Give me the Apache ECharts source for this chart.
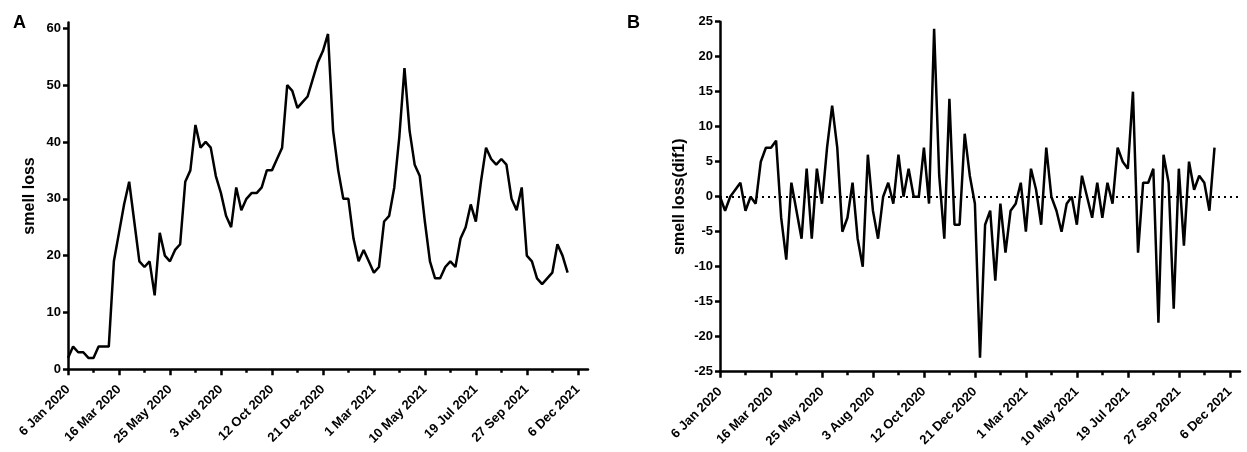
<!DOCTYPE html>
<html>
<head>
<meta charset="utf-8">
<title>smell loss</title>
<script src="https://cdn.jsdelivr.net/npm/echarts@6/dist/echarts.min.js"></script>
<style>
	html, body { margin: 0; padding: 0; background: #fff; }
	#main { width: 1247px; height: 452px; }
</style>
</head>
<body>
<div id="main"></div>
<script>
// tick labels on the week axis (one every 10 weeks from 6 Jan 2020)
var weekTicks = [0, 10, 20, 30, 40, 50, 60, 70, 80, 90, 100];
var weekMinorTicks = [5, 15, 25, 35, 45, 55, 65, 75, 85, 95];
var dateLabels = ["6 Jan 2020", "16 Mar 2020", "25 May 2020", "3 Aug 2020", "12 Oct 2020", "21 Dec 2020",
	"1 Mar 2021", "10 May 2021", "19 Jul 2021", "27 Sep 2021", "6 Dec 2021"];

// panel A: weekly smell loss
var smellLoss = [2, 4, 3, 3, 2, 2, 4, 4, 4,
	19, 24, 29, 33, 26, 19, 18, 19, 13, 24, 20,
	19, 21, 22, 33, 35, 43, 39, 40, 39, 34,
	31, 27, 25, 32, 28, 30, 31, 31, 32, 35,
	35, 37, 39, 50, 49, 46, 47, 48, 51, 54,
	56, 59, 42, 35, 30, 30, 23, 19, 21, 19,
	17, 18, 26, 27, 32, 41, 53, 42, 36, 34,
	26, 19, 16, 16, 18, 19, 18, 23, 25, 29,
	26, 33, 39, 37, 36, 37, 36, 30, 28, 32,
	20, 19, 16, 15, 16, 17, 22, 20, 17];
var lossTicks = [0, 10, 20, 30, 40, 50, 60];

// panel B: smell loss (dif1)
var smellLossDif = [0, -2, 0, 1, 2, -2, 0, -1, 5, 7,
	7, 8, -3, -9, 2, -2, -6, 4, -6, 4,
	-1, 7, 13, 7, -5, -3, 2, -6, -10, 6,
	-2, -6, 0, 2, -1, 6, 0, 4, 0, 0,
	7, -1, 24, 3, -6, 14, -4, -4, 9, 3,
	-1, -23, -4, -2, -12, -1, -8, -2, -1, 2,
	-5, 4, 1, -4, 7, 0, -2, -5, -1, 0,
	-4, 3, 0, -3, 2, -3, 2, -1, 7, 5,
	4, 15, -8, 2, 2, 4, -18, 6, 2, -16,
	4, -7, 5, 1, 3, 2, -2, 7];

var FONT = "Liberation Sans";

function toPoints(arr) {
	return arr.map(function (v, i) { return [i, v]; });
}

//week axis with the date labels and the long ticks
function weekAxis(gridIndex) {
	return {
		type: "value",
		gridIndex: gridIndex,
		position: "bottom",
		min: 0,
		max: 102,
		axisLine: { onZero: false, lineStyle: { color: "#000", width: 2.5 } },
		axisTick: { customValues: weekTicks, length: 6, lineStyle: { color: "#000", width: 2.5 } },
		axisLabel: {
			customValues: weekTicks,
			rotate: 45,
			margin: 18,
			color: "#000",
			fontFamily: FONT,
			fontWeight: "bold",
			fontSize: 13,
			formatter: function (v) { return dateLabels[weekTicks.indexOf(v)]; }
		},
		splitLine: { show: false }
	};
}

//same axis again, only for the short ticks in between
function weekMinorAxis(gridIndex) {
	return {
		type: "value",
		gridIndex: gridIndex,
		position: "bottom",
		min: 0,
		max: 102,
		axisLine: { show: false, onZero: false },
		axisTick: { customValues: weekMinorTicks, length: 3.5, lineStyle: { color: "#000", width: 2.5 } },
		axisLabel: { show: false },
		splitLine: { show: false }
	};
}

function valueAxis(gridIndex, opt) {
	var ax = {
		type: "value",
		gridIndex: gridIndex,
		name: opt.name,
		nameLocation: "middle",
		nameGap: opt.nameGap,
		nameTextStyle: { color: "#000", fontFamily: FONT, fontWeight: "bold", fontSize: 16 },
		min: opt.min,
		max: opt.max,
		axisLine: { lineStyle: { color: "#000", width: 2.5 } },
		axisTick: { length: 5, lineStyle: { color: "#000", width: 2.5 } },
		axisLabel: { margin: 7, color: "#000", fontFamily: FONT, fontWeight: "bold", fontSize: 13 },
		splitLine: { show: false }
	};
	if (opt.ticks) {
		ax.axisTick.customValues = opt.ticks;
		ax.axisLabel.customValues = opt.ticks;
	} else {
		ax.interval = opt.interval;
	}
	return ax;
}

var chart = echarts.init(document.getElementById("main"), null, { renderer: "canvas" });
chart.setOption({
	animation: false,
	backgroundColor: "#fff",
	title: [
		{ text: "A", left: 8, top: 9, textStyle: { fontFamily: FONT, fontWeight: "bold", fontSize: 18, color: "#000" } },
		{ text: "B", left: 622, top: 9, textStyle: { fontFamily: FONT, fontWeight: "bold", fontSize: 18, color: "#000" } }
	],
	grid: [
		{ left: 68, top: 22.6, width: 520, height: 346.7 },
		{ left: 720, top: 21.7, width: 520, height: 350 }
	],
	xAxis: [weekAxis(0), weekAxis(1), weekMinorAxis(0), weekMinorAxis(1)],
	yAxis: [
		valueAxis(0, { name: "smell loss", nameGap: 30, min: 0, max: 61, ticks: lossTicks }),
		valueAxis(1, { name: "smell loss(dif1)", nameGap: 32, min: -25, max: 25, interval: 5 })
	],
	series: [
		{
			type: "line",
			xAxisIndex: 0,
			yAxisIndex: 0,
			data: toPoints(smellLoss),
			showSymbol: false,
			lineStyle: { color: "#000", width: 2.5 }
		},
		{
			type: "line",
			xAxisIndex: 1,
			yAxisIndex: 1,
			data: toPoints(smellLossDif),
			showSymbol: false,
			lineStyle: { color: "#000", width: 2.5 },
			markLine: {
				silent: true,
				symbol: "none",
				label: { show: false },
				lineStyle: { color: "#000", width: 2, type: [2, 4] },
				data: [{ yAxis: 0 }]
			}
		}
	]
});
</script>
</body>
</html>
